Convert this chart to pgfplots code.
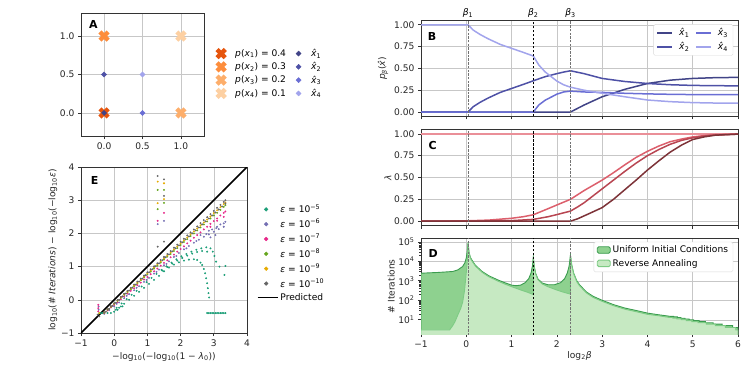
\documentclass[border=0pt]{standalone}
\usepackage{fontspec}
\setmainfont{DejaVu Sans}
\usepackage{pgfplots}
\pgfplotsset{compat=1.18}

\definecolor{or1}{HTML}{E6550D}
\definecolor{or2}{HTML}{FD8D3C}
\definecolor{or3}{HTML}{FDAE6B}
\definecolor{or4}{HTML}{FDD0A2}
\definecolor{xh1}{HTML}{414487}
\definecolor{xh2}{HTML}{4E51A6}
\definecolor{xh3}{HTML}{6A6ED4}
\definecolor{xh4}{HTML}{A2A4EC}
\definecolor{lm0}{HTML}{EA8F98}
\definecolor{lm1}{HTML}{DC5F6C}
\definecolor{lm2}{HTML}{B84652}
\definecolor{lm3}{HTML}{7D3338}
\definecolor{uF}{HTML}{8ED18F}
\definecolor{uE}{HTML}{3B9C4F}
\definecolor{rF}{HTML}{C6E9C2}
\definecolor{rE}{HTML}{7DCB84}
\definecolor{cA}{HTML}{1B9E77}
\definecolor{cB}{HTML}{7570B3}
\definecolor{cC}{HTML}{E7298A}
\definecolor{cD}{HTML}{66A61E}
\definecolor{cE}{HTML}{E6AB02}
\definecolor{cF}{HTML}{666666}

\newcommand{\tk}{\fontsize{9.1}{10.5}\selectfont}
\newcommand{\plab}{\fontsize{11}{12}\selectfont\bfseries}

\pgfplotsset{
  panel/.style={
    scale only axis, anchor=south west,
    axis line style={draw=black!80, line width=0.6pt},
    grid=major, major grid style={draw=black!22, line width=0.5pt},
    tick align=outside, tick pos=left,
    major tick length=3pt, minor tick length=1.8pt,
    tick style={black!80, line width=0.6pt},
    tick label style={font=\tk, text=black!85},
    label style={font=\tk, text=black!85},
    /pgf/number format/assume math mode=true,
    legend style={font=\tk},
    legend cell align=left,
  },
  vlA/.style={forget plot, draw=black!55, line width=1.1pt, dash pattern=on 2.5pt off 1.2pt},
  vlB/.style={forget plot, draw=black, line width=0.7pt, dash pattern=on 2.5pt off 1.5pt},
  crs/.style={only marks, mark=x, mark size=5.8pt, mark options={line width=4.4pt}, color=#1},
  dia/.style={only marks, mark=square*, mark size=1.8pt, mark options={rotate=45}, color=#1},
  pts/.style={only marks, mark=*, mark size=0.75pt, color=#1},
  crv/.style={color=#1, line width=1.5pt, line join=round},
}

\begin{document}
\begin{tikzpicture}
\useasboundingbox (0,0) rectangle (747pt,368pt);

% ---------- A ----------
\begin{axis}[panel, at={(81pt,232pt)}, width=123pt, height=123pt,
  xmin=-0.3, xmax=1.3, ymin=-0.3, ymax=1.3,
  xtick={0,0.5,1}, ytick={0,0.5,1},
  xticklabels={0.0,0.5,1.0}, yticklabels={0.0,0.5,1.0},
  legend columns=4, transpose legend,
  legend style={at={(1.08,0.74)}, anchor=north west, draw=none, fill=none,
    column sep=8pt, row sep=0.5pt}]
\addplot[crs=or1] coordinates {(0,0)};
\addlegendentry{\textit{p}(\textit{x}\textsubscript{1}) = 0.4}
\addplot[crs=or2] coordinates {(0,1)};
\addlegendentry{\textit{p}(\textit{x}\textsubscript{2}) = 0.3}
\addplot[crs=or3] coordinates {(1,0)};
\addlegendentry{\textit{p}(\textit{x}\textsubscript{3}) = 0.2}
\addplot[crs=or4] coordinates {(1,1)};
\addlegendentry{\textit{p}(\textit{x}\textsubscript{4}) = 0.1}
\addplot[dia=xh1] coordinates {(0,0)};
\addlegendentry{\textit{\^{x}}\textsubscript{1}}
\addplot[dia=xh2] coordinates {(0,0.5)};
\addlegendentry{\textit{\^{x}}\textsubscript{2}}
\addplot[dia=xh3] coordinates {(0.5,0)};
\addlegendentry{\textit{\^{x}}\textsubscript{3}}
\addplot[dia=xh4] coordinates {(0.5,0.5)};
\addlegendentry{\textit{\^{x}}\textsubscript{4}}
\node[anchor=north west, inner sep=0pt, font=\plab] at ([xshift=8pt,yshift=-7.7pt]rel axis cs:0,1) {A};
\end{axis}

% ---------- E ----------
\begin{axis}[panel, at={(81pt,35pt)}, width=166pt, height=166pt,
  xmin=-1, xmax=4, ymin=-1, ymax=4,
  xtick={-1,0,1,2,3,4}, ytick={-1,0,1,2,3,4},
  xticklabels={−1,0,1,2,3,4}, yticklabels={−1,0,1,2,3,4},
  xlabel={−log\textsubscript{10}(−log\textsubscript{10}(1 − \textit{λ}\textsubscript{0}))},
  ylabel={log\textsubscript{10}(\# \textit{Iterations}) − log\textsubscript{10}(−log\textsubscript{10}\textit{ε})},
  xlabel style={at={(rel axis cs:0.5,-0.143)}, anchor=center},
  ylabel style={at={(rel axis cs:-0.17,0.5)}, anchor=center},
  legend image post style={mark size=1.9pt},
  legend style={at={(1.04,0.80)}, anchor=north west, draw=none, fill=none, row sep=0.8pt}]
\addplot[pts=cA] coordinates {
(-0.45,-0.4)(-0.4,-0.4)(-0.35,-0.4)(-0.3,-0.4)(-0.2,-0.4)(-0.1,-0.4)(0.05,-0.3)(0.1,-0.3)(0.2,-0.2)(0.25,-0.2)
(0,-0.36)(0.15,-0.24)(0.3,-0.12)(0.45,0.0)(0.6,0.12)(0.75,0.24)(0.9,0.36)(1.05,0.48)(1.2,0.6)(1.35,0.72)
(1.5,0.86)(1.65,0.97)(1.8,1.06)(1.95,1.13)(2.1,1.18)(2.25,1.21)(2.4,1.22)(2.5,1.2)(2.6,1.12)(2.65,1.05)
(2.7,0.93)(2.74,0.8)(2.77,0.65)(2.8,0.5)(2.82,0.35)(2.84,0.2)(2.86,0.07)
(0.075,-0.24)(0.225,-0.11)(0.375,0.02)(0.525,0.15)(0.675,0.27)(0.825,0.4)(0.975,0.53)(1.125,0.66)(1.275,0.78)
(1.425,0.9)(1.575,1.01)(1.725,1.12)(1.875,1.22)(2.025,1.31)(2.175,1.38)(2.325,1.45)(2.475,1.51)(2.625,1.55)
(2.775,1.58)(2.9,1.55)(2.97,1.45)(3.02,1.32)(3.07,1.15)
(1.45,0.88)(1.6,0.99)(1.75,1.09)(1.9,1.18)(2.05,1.26)(2.2,1.33)(2.35,1.39)(2.5,1.44)(2.65,1.47)(2.8,1.45)
(3.17,1.0)(3.32,0.75)(3.35,1.02)
(2.8,-0.4)(2.85,-0.4)(2.9,-0.4)(2.95,-0.4)(3.0,-0.4)(3.05,-0.4)(3.1,-0.4)(3.15,-0.4)(3.2,-0.4)(3.25,-0.4)(3.3,-0.4)(3.35,-0.4)};
\addlegendentry{\textit{ε} = 10\textsuperscript{−5}}
\addplot[pts=cB] coordinates {
(-0.47,-0.2)(-0.47,-0.3)
(-0.3,-0.42)(-0.15,-0.31)(0,-0.2)(0.15,-0.08)(0.3,0.05)(0.45,0.17)(0.6,0.29)(0.75,0.41)(0.9,0.54)(1.05,0.66)
(1.2,0.79)(1.35,0.91)(1.5,1.04)(1.65,1.16)(1.8,1.29)(1.95,1.41)(2.1,1.52)(2.25,1.62)(2.4,1.72)(2.55,1.81)
(2.7,1.9)(2.85,1.97)(3.0,2.05)(3.15,2.13)(3.3,2.2)
(0.075,-0.12)(0.375,0.12)(0.675,0.36)(0.975,0.6)(1.275,0.84)(1.575,1.08)(1.875,1.32)(2.175,1.55)(2.475,1.77)
(2.775,1.98)(3.075,2.16)(3.3,2.3)
(2.6,1.95)(2.85,2.08)(2.95,2.12)(3.1,2.2)(3.2,2.27)(3.35,2.35)(2.9,1.88)(3.05,1.95)
(1.31,2.28)(1.5,2.38)};
\addlegendentry{\textit{ε} = 10\textsuperscript{−6}}
\addplot[pts=cC] coordinates {
(-0.48,-0.15)(-0.48,-0.25)(-0.48,-0.35)
(-0.3,-0.4)(-0.2,-0.32)(-0.1,-0.23)(0,-0.15)(0.1,-0.07)(0.2,0.02)(0.3,0.1)(0.4,0.19)(0.5,0.27)(0.6,0.35)
(0.7,0.44)(0.8,0.52)(0.9,0.61)(1.0,0.69)(1.1,0.77)(1.2,0.86)(1.3,0.94)(1.4,1.03)(1.5,1.11)(1.6,1.19)
(1.7,1.28)(1.8,1.36)(1.9,1.45)(2.0,1.53)(2.1,1.61)(2.2,1.7)(2.3,1.78)(2.4,1.87)(2.5,1.95)(2.6,2.03)
(2.7,2.12)(2.8,2.2)(2.9,2.29)(3.0,2.37)(3.1,2.45)(3.2,2.54)(3.3,2.62)(3.35,2.66)
(2.9,2.2)(3.1,2.38)(3.3,2.5)
(1.31,2.38)(1.5,2.62)};
\addlegendentry{\textit{ε} = 10\textsuperscript{−7}}
\addplot[pts=cD] coordinates {
(-0.3,-0.39)(-0.2,-0.3)(-0.1,-0.21)(0,-0.12)(0.1,-0.03)(0.2,0.06)(0.3,0.15)(0.4,0.23)(0.5,0.32)(0.6,0.41)
(0.7,0.5)(0.8,0.59)(0.9,0.68)(1.0,0.77)(1.1,0.85)(1.2,0.94)(1.3,1.03)(1.4,1.12)(1.5,1.21)(1.6,1.3)
(1.7,1.38)(1.8,1.47)(1.9,1.56)(2.0,1.65)(2.1,1.74)(2.2,1.83)(2.3,1.92)(2.4,2.0)(2.5,2.09)(2.6,2.18)
(2.7,2.27)(2.8,2.36)(2.9,2.45)(3.0,2.54)(3.1,2.62)(3.2,2.71)(3.3,2.8)(3.35,2.85)
(1.31,3.31)(1.31,2.73)(1.5,3.31)(1.5,2.92)};
\addlegendentry{\textit{ε} = 10\textsuperscript{−8}}
\addplot[pts=cE] coordinates {
(-0.45,-0.4)
(-0.3,-0.38)(-0.2,-0.29)(-0.1,-0.2)(0,-0.11)(0.1,-0.02)(0.2,0.07)(0.3,0.16)(0.4,0.25)(0.5,0.34)(0.6,0.43)
(0.7,0.52)(0.8,0.61)(0.9,0.7)(1.0,0.8)(1.1,0.89)(1.2,0.98)(1.3,1.07)(1.4,1.16)(1.5,1.25)(1.6,1.34)
(1.7,1.43)(1.8,1.52)(1.9,1.61)(2.0,1.7)(2.1,1.79)(2.2,1.88)(2.3,1.97)(2.4,2.06)(2.5,2.15)(2.6,2.24)
(2.7,2.33)(2.8,2.42)(2.9,2.51)(3.0,2.61)(3.1,2.7)(3.2,2.79)(3.3,2.88)(3.35,2.93)
(1.31,3.56)(1.31,2.91)(1.5,3.51)(1.5,3.03)};
\addlegendentry{\textit{ε} = 10\textsuperscript{−9}}
\addplot[pts=cF] coordinates {
(-0.45,-0.5)(-0.5,-0.45)
(-0.3,-0.38)(-0.2,-0.29)(-0.1,-0.19)(0,-0.10)(0.1,-0.01)(0.2,0.09)(0.3,0.18)(0.4,0.27)(0.5,0.36)(0.6,0.46)
(0.7,0.55)(0.8,0.64)(0.9,0.73)(1.0,0.83)(1.1,0.92)(1.2,1.01)(1.3,1.10)(1.4,1.20)(1.5,1.29)(1.6,1.38)
(1.7,1.47)(1.8,1.57)(1.9,1.66)(2.0,1.75)(2.1,1.84)(2.2,1.94)(2.3,2.03)(2.4,2.12)(2.5,2.21)(2.6,2.31)
(2.7,2.40)(2.8,2.49)(2.9,2.58)(3.0,2.68)(3.1,2.77)(3.2,2.86)(3.3,2.95)(3.35,3.0)
(-0.25,-0.36)(-0.15,-0.27)(-0.05,-0.18)(0.05,-0.09)(0.15,0.0)(0.25,0.1)(0.35,0.19)(0.45,0.28)(0.55,0.37)
(0.65,0.46)(0.75,0.55)(0.85,0.64)(0.95,0.74)(1.05,0.83)(1.15,0.92)(1.25,1.01)(1.35,1.1)(1.45,1.19)
(1.55,1.28)(1.65,1.37)(1.75,1.46)(1.85,1.55)(1.95,1.64)(2.05,1.73)(2.15,1.82)(2.25,1.91)(2.35,2.0)
(2.45,2.09)(2.55,2.18)(2.65,2.27)(2.75,2.36)(2.85,2.45)(2.95,2.54)(3.05,2.63)(3.15,2.72)(3.25,2.81)(3.35,2.9)
(1.31,3.73)(1.31,1.6)(1.5,3.63)(1.5,3.13)(1.5,1.75)};
\addlegendentry{\textit{ε} = 10\textsuperscript{−10}}
\addplot[black, line width=1.6pt,
  legend image code/.code={\draw[black, line width=1.6pt] (0pt,0pt) -- (20pt,0pt);}]
  coordinates {(-1,-1)(4,4)};
\addlegendentry{Predicted}
\node[anchor=north west, inner sep=0pt, font=\plab] at ([xshift=9.7pt,yshift=-9pt]rel axis cs:0,1) {E};
\end{axis}

% ---------- B ----------
\begin{axis}[panel, at={(421pt,251.6pt)}, width=317pt, height=96pt, clip=false,
  xmin=-1, xmax=6, ymin=-0.05, ymax=1.05,
  xtick={-1,0,1,2,3,4,5,6}, xticklabels={,,,,,,,},
  ytick={0,0.25,0.5,0.75,1}, yticklabels={0.00,0.25,0.50,0.75,1.00},
  ylabel={\textit{p}\textsubscript{\textit{β}}(\textit{\^{x}})},
  ylabel style={at={(rel axis cs:-0.12,0.5)}, anchor=center},
  legend columns=2, transpose legend,
  legend image code/.code={\draw[#1, line width=1.5pt] (0pt,0pt) -- (15pt,0pt);},
  legend style={at={(0.985,0.96)}, anchor=north east, draw=black!15, fill=white,
    rounded corners=1.5pt, column sep=4pt, row sep=1.5pt}]
\addplot[crv=xh1] coordinates {(-1,0)(2.3,0)(2.6,0.08)(3,0.175)(3.5,0.26)(4,0.327)(4.5,0.365)(5,0.385)(5.5,0.394)(6,0.397)};
\addlegendentry{\textit{\^{x}}\textsubscript{1}}
\addplot[crv=xh2] coordinates {(-1,0)(0.04,0)(0.15,0.06)(0.3,0.11)(0.48,0.16)(0.75,0.225)(1.0,0.27)(1.25,0.315)(1.48,0.358)(1.6,0.38)(1.74,0.405)(2.0,0.44)(2.15,0.458)(2.3,0.473)(2.6,0.44)(3,0.385)(3.5,0.35)(4,0.327)(4.5,0.313)(5,0.305)(5.5,0.302)(6,0.3)};
\addlegendentry{\textit{\^{x}}\textsubscript{2}}
\addplot[crv=xh3] coordinates {(-1,0)(1.48,0)(1.6,0.08)(1.74,0.135)(2.0,0.205)(2.15,0.23)(2.3,0.24)(2.6,0.23)(3,0.225)(3.5,0.215)(4,0.208)(4.5,0.203)(5,0.2)(6,0.2)};
\addlegendentry{\textit{\^{x}}\textsubscript{3}}
\addplot[crv=xh4] coordinates {(-1,1)(0.04,1)(0.15,0.94)(0.3,0.89)(0.48,0.84)(0.75,0.775)(1.0,0.73)(1.25,0.685)(1.48,0.642)(1.6,0.54)(1.74,0.46)(2.0,0.355)(2.15,0.312)(2.3,0.285)(2.6,0.25)(3,0.215)(3.5,0.175)(4,0.138)(4.5,0.119)(5,0.108)(5.5,0.103)(6,0.102)};
\addlegendentry{\textit{\^{x}}\textsubscript{4}}
\addplot[vlA] coordinates {(0.04,-0.05)(0.04,1.05)};
\addplot[vlB] coordinates {(1.48,-0.05)(1.48,1.05)};
\addplot[vlA] coordinates {(2.3,-0.05)(2.3,1.05)};
\node[anchor=south, inner sep=2.5pt, font=\tk] at (axis cs:0.04,1.05) {\textit{β}\textsubscript{1}};
\node[anchor=south, inner sep=2.5pt, font=\tk] at (axis cs:1.48,1.05) {\textit{β}\textsubscript{2}};
\node[anchor=south, inner sep=2.5pt, font=\tk] at (axis cs:2.3,1.05) {\textit{β}\textsubscript{3}};
\node[anchor=north west, inner sep=0pt, font=\plab] at ([xshift=6.7pt,yshift=-11.4pt]rel axis cs:0,1) {B};
\end{axis}

% ---------- C ----------
\begin{axis}[panel, at={(421pt,142.5pt)}, width=317pt, height=96pt,
  xmin=-1, xmax=6, ymin=-0.05, ymax=1.05,
  xtick={-1,0,1,2,3,4,5,6}, xticklabels={,,,,,,,},
  ytick={0,0.25,0.5,0.75,1}, yticklabels={0.00,0.25,0.50,0.75,1.00},
  ylabel={\textit{λ}},
  ylabel style={at={(rel axis cs:-0.104,0.5)}, anchor=center}]
\addplot[crv=lm0] coordinates {(-1,1)(6,1)};
\addplot[crv=lm1] coordinates {(-1,0)(-0.5,0.001)(0,0.003)(0.5,0.012)(1,0.033)(1.25,0.05)(1.48,0.073)(1.7,0.12)(2.0,0.185)(2.3,0.25)(2.45,0.3)(2.6,0.35)(2.8,0.41)(3.0,0.47)(3.25,0.555)(3.5,0.645)(3.75,0.73)(4,0.80)(4.25,0.86)(4.5,0.91)(4.75,0.94)(5,0.965)(5.25,0.98)(5.5,0.99)(6,0.998)};
\addplot[crv=lm2] coordinates {(-1,0)(0.04,0)(0.5,0.002)(1,0.006)(1.48,0.02)(1.8,0.05)(2.0,0.075)(2.3,0.115)(2.45,0.16)(2.6,0.21)(2.8,0.29)(3.0,0.37)(3.25,0.47)(3.5,0.57)(3.75,0.665)(4,0.75)(4.25,0.82)(4.5,0.88)(4.75,0.925)(5,0.955)(5.25,0.975)(5.5,0.987)(6,0.997)};
\addplot[crv=lm3] coordinates {(-1,0)(2.3,0)(2.45,0.025)(2.6,0.06)(2.75,0.095)(3.0,0.155)(3.25,0.25)(3.5,0.36)(3.75,0.47)(4,0.585)(4.25,0.69)(4.5,0.79)(4.75,0.87)(5,0.935)(5.25,0.965)(5.5,0.985)(6,0.997)};
\addplot[vlA] coordinates {(0.04,-0.05)(0.04,1.05)};
\addplot[vlB] coordinates {(1.48,-0.05)(1.48,1.05)};
\addplot[vlA] coordinates {(2.3,-0.05)(2.3,1.05)};
\node[anchor=north west, inner sep=0pt, font=\plab] at ([xshift=7.3pt,yshift=-12pt]rel axis cs:0,1) {C};
\end{axis}

% ---------- D ----------
\begin{axis}[panel, at={(421pt,34pt)}, width=317pt, height=95.5pt,
  ymode=log, xmin=-1, xmax=6, ymin=1.86, ymax=148000,
  xtick={-1,0,1,2,3,4,5,6}, xticklabels={−1,0,1,2,3,4,5,6},
  ytick={10,100,1000,10000,100000},
  yticklabels={10\textsuperscript{1},10\textsuperscript{2},10\textsuperscript{3},10\textsuperscript{4},10\textsuperscript{5}},
  xlabel={log\textsubscript{2}\textit{β}},
  xlabel style={at={(rel axis cs:0.5,-0.225)}, anchor=center},
  ylabel={\# Iterations},
  ylabel style={at={(rel axis cs:-0.094,0.5)}, anchor=center},
  legend image code/.code={\draw[#1] (0pt,-3pt) rectangle (13pt,3.5pt);},
  legend style={at={(0.985,0.965)}, anchor=north east, draw=black!15, fill=white,
    rounded corners=1.5pt, row sep=1pt}]
\addplot[fill=uF, draw=uE, line width=0.9pt] coordinates {
(-1,1)(-1,2450)(-0.6,2700)(-0.3,3000)(-0.19,3600)(-0.08,5400)(-0.03,8500)(0.0,15000)(0.02,32000)(0.04,90000)
(0.06,30000)(0.09,16000)(0.12,12000)(0.2,6300)(0.35,3000)(0.5,1800)(0.7,1100)(0.85,800)(1.0,600)(1.1,560)
(1.2,600)(1.3,800)(1.38,1300)(1.43,2500)(1.46,5600)(1.48,16000)(1.50,5600)(1.53,2500)(1.58,1260)(1.68,760)
(1.8,630)(1.95,630)(2.08,800)(2.17,1260)(2.23,2500)(2.27,5600)(2.30,20000)(2.33,6300)(2.37,2500)(2.44,1000)
(2.5,630)(2.65,270)(2.8,160)(3.0,100)(3.25,60)(3.5,40)(3.75,30)(4.0,22)(4.25,18)(4.5,15)
(4.58,15)(4.58,14)(4.66,14)(4.66,13)(4.74,13)(4.74,12)(4.83,12)(4.83,11)(4.92,11)(4.92,10)(5.02,10)(5.02,9)
(5.14,9)(5.14,8)(5.28,8)(5.28,7)(5.45,7)(5.45,6)(5.65,6)(5.65,5)(5.88,5)(5.88,4)(6,4)(6,1)};
\addlegendentry{Uniform Initial Conditions}
\addplot[fill=rF, draw=rE, line width=0.9pt] coordinates {
(-1,1)(-1,3)(-0.37,3)(-0.33,4)(-0.3,5)(-0.25,8)(-0.19,17)(-0.12,40)(-0.08,81)(-0.04,300)(-0.01,1500)(0.02,8000)
(0.04,90000)(0.06,27000)(0.09,14500)(0.12,10800)(0.2,5700)(0.35,2700)(0.5,1600)(0.7,960)(0.85,680)(1.0,500)
(1.2,340)(1.35,260)(1.47,200)(1.48,200)(1.48,16000)(1.50,5000)(1.53,2300)(1.58,1150)(1.68,680)(1.8,500)
(1.95,370)(2.1,280)(2.2,240)(2.29,210)(2.30,210)(2.30,20000)(2.33,5700)(2.37,2300)(2.44,900)(2.5,560)
(2.65,240)(2.8,140)(3.0,88)(3.25,53)(3.5,35)(3.75,26)(4.0,19)(4.25,16)(4.5,13)
(4.56,13)(4.56,12)(4.65,12)(4.65,11)(4.75,11)(4.75,10)(4.86,10)(4.86,9)(4.98,9)(4.98,8)(5.12,8)(5.12,7)
(5.3,7)(5.3,6)(5.5,6)(5.5,5)(5.72,5)(5.72,4)(5.95,4)(5.95,3)(6,3)(6,1)};
\addlegendentry{Reverse Annealing}
\addplot[vlA] coordinates {(0.04,1)(0.04,1e6)};
\addplot[vlB] coordinates {(1.48,1)(1.48,1e6)};
\addplot[vlA] coordinates {(2.3,1)(2.3,1e6)};
\node[anchor=north west, inner sep=0pt, font=\plab] at ([xshift=7.3pt,yshift=-10.5pt]rel axis cs:0,1) {D};
\end{axis}
\end{tikzpicture}
\end{document}
